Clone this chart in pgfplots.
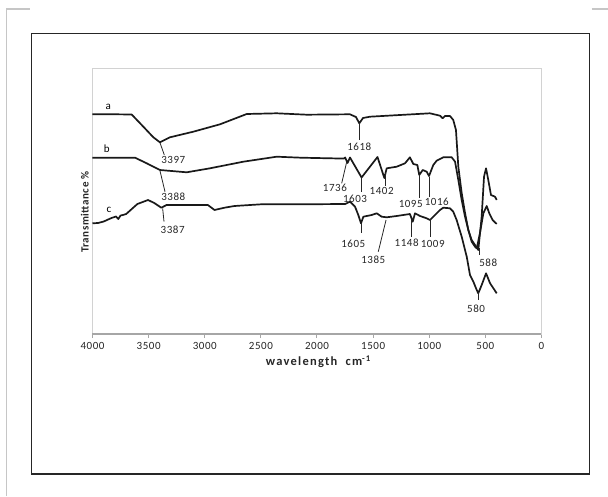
\documentclass[border=0pt]{standalone}
\usepackage{pgfplots}
\pgfplotsset{compat=1.18}
\usepackage{fontspec}
\setmainfont{Carlito}
\newfontfamily\tickff[LetterSpace=5]{Carlito}
\newfontfamily\labff[LetterSpace=10]{Carlito}
\newcommand{\tickfont}{\tickff\fontsize{11}{12}\selectfont}
\newcommand{\annfont}{\tickff\fontsize{11}{12}\selectfont}
\begin{document}
\begin{tikzpicture}[x=1pt,y=1pt]
\path[use as bounding box] (0,0) rectangle (608,496);
% outer page marks
\draw[gray!45, line width=1.4pt] (6.7,0) -- (6.7,487) -- (30,487);
\draw[gray!45, line width=1.4pt] (591.7,487) -- (608,487);
% inner box
\draw[black!85, line width=1.2pt] (31.7,22) rectangle (589.3,462.7);
\begin{axis}[
  at={(92.5pt,162pt)}, anchor=south west,
  width=449pt, height=265pt, scale only axis,
  xmin=0, xmax=4000, x dir=reverse,
  ymin=0, ymax=265,
  ytick=\empty,
  xtick={0,500,...,4000},
  xtick pos=bottom, tick align=outside,
  major tick length=4pt,
  tick style={gray!70, line width=1pt},
  axis line style={draw=gray!35, line width=1pt},
  /pgf/number format/1000 sep={},
  /pgf/number format/assume math mode=true,
  xticklabel style={font=\tickfont, text=black!85, yshift=-1pt},
  xlabel={\labff\bfseries\fontsize{12.5}{14}\selectfont wavelength\ \ cm\textsuperscript{-1}},
  xlabel style={at={(axis description cs:0.503,-0.1045)}, anchor=center, text=black!85},
  ylabel={\tickff\bfseries\fontsize{11}{13}\selectfont Transmittance \%},
  ylabel style={at={(axis description cs:-0.017,0.46)}, anchor=center, text=black!85},
  clip=false,
]
\draw[gray!70, line width=1.6pt] (rel axis cs:0,0) -- (rel axis cs:1,0);
% curve a
\addplot[black!90, line width=1.7pt, line join=round] coordinates {
(4000,219.7) (3800,219.7) (3651,219.5) (3547,207.3) (3458,196.7) (3399,191.7)
(3310,196.7) (3102,202.3) (2864,209.7) (2626,220) (2359,220.7) (2092,219.3)
(1900,219.5) (1706,219.7) (1653,217) (1623,210.7) (1590,216) (1528,217.3)
(1261,219) (994,220.7) (904,218.3) (880,215.7) (860,218) (815,218) (786,214)
(762,204) (741,167.3) (711,141) (681,121) (652,104) (622,94) (592,89) (563,84)
(533,117.3) (512,157.3) (494,165.7) (474,154) (450,139) (414,137.3) (399,134)
};
% curve b
\addplot[black!90, line width=1.7pt, line join=round] coordinates {
(4000,176.3) (3621,176.3) (3517,170.7) (3399,164) (3161,161.7) (2953,165.7)
(2657,172.3) (2359,177.3) (2143,176.3) (1800,175.5) (1760,175.5) (1749,176.5)
(1728,171) (1706,176.5) (1603,156.5) (1461,177) (1400,156) (1379,165.7)
(1290,167.3) (1216,170.7) (1172,176.7) (1142,170) (1106,169) (1089,159)
(1058,164) (1023,162.3) (1002,158) (964,169) (934,173.3) (875,176.7) (800,176.7)
(770,172.3) (741,154) (711,134) (681,117.3) (652,104) (622,92.3) (592,87.3)
(577,85.7) (548,101) (518,120.7) (488,128) (465,120.7) (435,114) (399,110)
};
% curve c
\addplot[black!90, line width=1.7pt, line join=round] coordinates {
(4000,110.7) (3950,111) (3900,112.5) (3831,116) (3790,117.5) (3770,115) (3750,118.5)
(3729,119) (3700,120) (3650,125) (3600,130) (3505,134) (3450,131) (3387,126.3)
(3340,129) (3298,129) (2972,129) (2913,124) (2824,126.3) (2735,128) (2498,129.7)
(2143,129.7) (1749,130) (1706,132.3) (1661,127.3) (1632,119) (1608,110.7)
(1587,117.3) (1513,119) (1468,120.7) (1424,117.3) (1379,116.7) (1290,118)
(1172,120) (1147,112.3) (1127,120.7) (1082,118) (1023,115.7) (993,114)
(949,119) (904,124) (875,126.3) (815,125.7) (786,122.3) (756,114) (711,97.3)
(666,77.3) (637,59) (607,52.3) (577,44) (563,40.7) (533,49) (494,60.7)
(458,50.7) (399,40.7)
};
% curve letters
\node[font=\annfont] at (axis cs:3859,226.7) {a};
\node[font=\annfont] at (axis cs:3873,185.7) {b};
\node[font=\annfont] at (axis cs:3853,124) {c};
% annotations
\begin{scope}[line width=0.8pt, black!85]
\draw (axis cs:3399,191.3) -- (axis cs:3360,179);
\draw (axis cs:3399,163.3) -- (axis cs:3354,142.3);
\draw (axis cs:3375,125.7) -- (axis cs:3363,112.3);
\draw (axis cs:1623,210.7) -- (axis cs:1623,194);
\draw (axis cs:1735,172.3) -- (axis cs:1780,150.7);
\draw (axis cs:1608,157.3) -- (axis cs:1608,142.3);
\draw (axis cs:1394,161) -- (axis cs:1394,148);
\draw (axis cs:1091,159) -- (axis cs:1091,135.7);
\draw (axis cs:999,157.3) -- (axis cs:999,137.3);
\draw (axis cs:1608,110.7) -- (axis cs:1608,100.7);
\draw (axis cs:1385,114) -- (axis cs:1454,82.3);
\draw (axis cs:1156,114) -- (axis cs:1156,97.3);
\draw (axis cs:993,114.7) -- (axis cs:993,97.3);
\draw (axis cs:554,85.7) -- (axis cs:554,79);
\draw (axis cs:563,42.3) -- (axis cs:563,34);
\end{scope}
\begin{scope}[every node/.style={font=\annfont, text=black!85, inner sep=0pt}]
\node at (axis cs:3280,174) {3397};
\node at (axis cs:3280,137.3) {3388};
\node at (axis cs:3286,104.7) {3387};
\node at (axis cs:1623,187.3) {1618};
\node at (axis cs:1840,145.7) {1736};
\node at (axis cs:1661,135) {1603};
\node at (axis cs:1424,143) {1402};
\node at (axis cs:1165,130) {1095};
\node at (axis cs:933,132.3) {1016};
\node at (axis cs:1677,90) {1605};
\node at (axis cs:1498,74) {1385};
\node at (axis cs:1201,91.7) {1148};
\node at (axis cs:969,89.7) {1009};
\node at (axis cs:474,71.3) {588};
\node at (axis cs:583,25.7) {580};
\end{scope}
\end{axis}
\end{tikzpicture}
\end{document}
